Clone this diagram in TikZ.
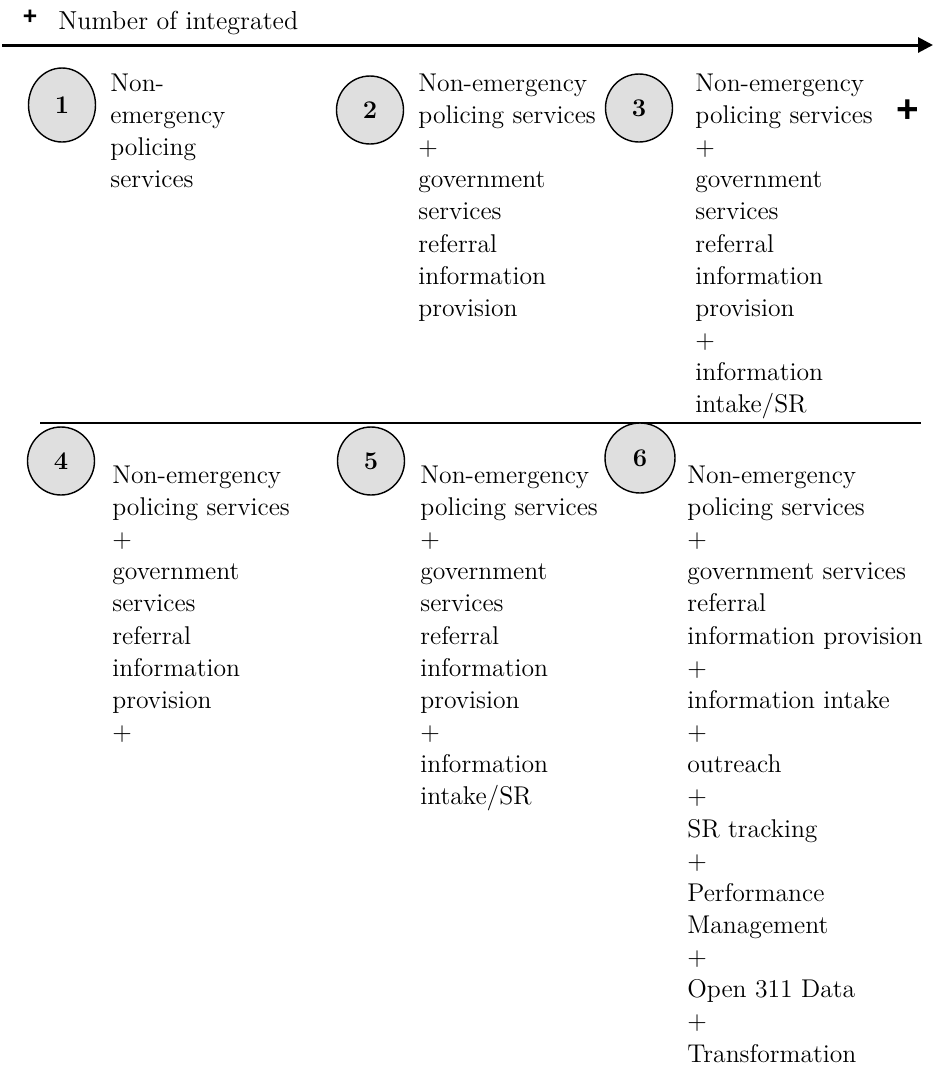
\documentclass[tikz,border=0pt]{standalone}
\usepackage{fontspec}
\usepackage{xcolor}
\newfontfamily\plusfont{Liberation Sans}
\usetikzlibrary{arrows.meta,shapes.geometric}

\begin{document}
\begin{tikzpicture}[
    x=0.02cm, y=-0.02cm,
    stage/.style={ellipse, draw, line width=0.8pt, fill=gray!25, minimum width=1.34cm, minimum height=1.36cm, inner sep=0pt, font=\fontsize{14.5}{17}\selectfont\bfseries},
    desc/.style={anchor=north west, align=left, inner sep=0pt, font=\fontsize{14.6}{18.3}\selectfont},
    axis/.style={-{Triangle[length=0.3cm, width=0.3cm]}, line width=1.7pt},
    plussign/.style={inner sep=0pt, font=\plusfont\bfseries}
]
\useasboundingbox (0,0) rectangle (934,1066);

% axis on top
\node[plussign, font=\plusfont\bfseries\fontsize{14}{14}\selectfont] (pluslow) at (30,17) {+};
\node[desc, anchor=base west, font=\fontsize{14.8}{18}\selectfont] (axislabel) at (58,29) {Number of integrated};
\coordinate (axstart) at (2,45);
\coordinate (axend) at (933,45);
\draw[axis] (axstart) -- (axend);
\node[plussign, font=\plusfont\bfseries\fontsize{22}{22}\selectfont] (plushigh) at (908,111) {+};

% first row
\node[stage, minimum height=1.48cm] (s1) at (62,105) {1};
\node[stage] (s2) at (370,110) {2};
\node[stage] (s3) at (639,108) {3};

\node[desc] (t1) at (110,73.5) {Non-\\emergency\\policing\\services};
\node[desc] (t2) at (418,73.5) {Non-emergency\\policing services\\+\\government\\services\\referral\\information\\provision};
\node[desc] (t3) at (695,73.5) {Non-emergency\\policing services\\+\\government\\services\\referral\\information\\provision\\+\\information\\intake/SR};

\coordinate (divl) at (40,423);
\coordinate (divr) at (921,423);
\draw[line width=0.6pt] (divl) -- (divr);

% second row
\node[stage] (s4) at (61,461) {4};
\node[stage] (s5) at (371,461) {5};
\node[stage, minimum width=1.4cm, minimum height=1.4cm] (s6) at (640,458) {6};

\node[desc] (t4) at (112,465.5) {Non-emergency\\policing services\\+\\government\\services\\referral\\information\\provision\\+};
\node[desc] (t5) at (420,465.5) {Non-emergency\\policing services\\+\\government\\services\\referral\\information\\provision\\+\\information\\intake/SR};
\node[desc] (t6) at (687,465.5) {Non-emergency\\policing services\\+\\government services\\referral\\information provision\\+\\information intake\\+\\outreach\\+\\SR tracking\\+\\Performance\\Management\\+\\Open 311 Data\\+\\Transformation};

\end{tikzpicture}
\end{document}
